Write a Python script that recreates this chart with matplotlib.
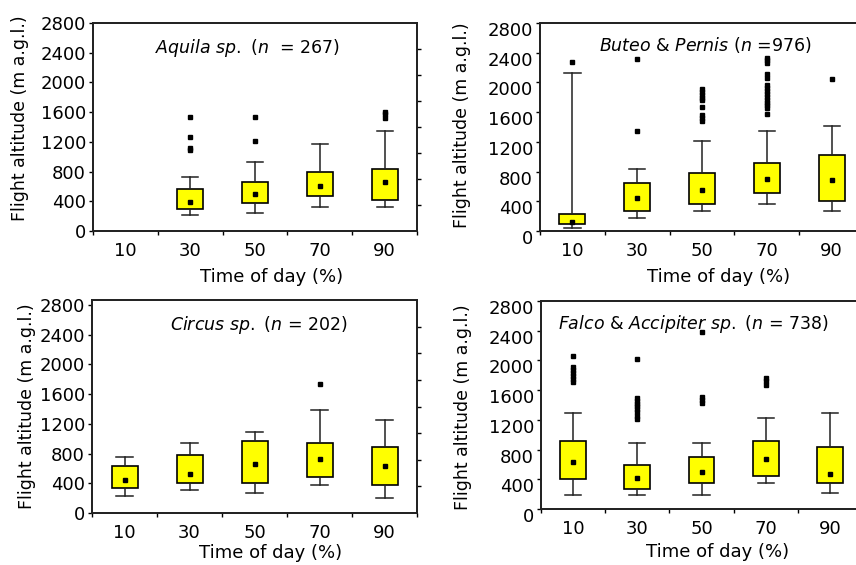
import matplotlib.pyplot as plt
import matplotlib.transforms as mtransforms
import numpy as np

plt.rcParams['font.family'] = 'DejaVu Sans'
plt.rcParams['mathtext.fontset'] = 'dejavusans'

nan = np.nan
times = ['10', '30', '50', '70', '90']
left_ticks = [0, 400, 800, 1200, 1600, 2000, 2400, 2800]

# Aquila sp.
aquila_lo = [nan, 215, 245, 320, 320]
aquila_q1 = [nan, 290, 375, 470, 420]
aquila_med = [nan, 395, 500, 605, 655]
aquila_q3 = [nan, 560, 665, 800, 830]
aquila_hi = [nan, 725, 935, 1175, 1340]
aquila_out = [[], [1540, 1260, 1120, 1090], [1540, 1215], [], [1600, 1580, 1520]]

# Buteo & Pernis
buteo_lo = [45, 180, 265, 370, 265]
buteo_q1 = [100, 265, 370, 505, 400]
buteo_med = [120, 440, 550, 695, 685]
buteo_q3 = [235, 640, 775, 910, 1025]
buteo_hi = [2130, 830, 1205, 1340, 1420]
buteo_out = [[2280], [2320, 1350],
             [1910, 1870, 1830, 1790, 1760, 1670, 1560, 1520, 1480],
             [2335, 2300, 2265, 2110, 2060, 1960, 1920, 1880, 1840, 1800,
              1760, 1720, 1700, 1650, 1580],
             [2040]]

# Circus sp.
circus_lo = [225, 305, 270, 380, 200]
circus_q1 = [330, 405, 405, 485, 380]
circus_med = [450, 530, 665, 725, 630]
circus_q3 = [630, 785, 975, 945, 890]
circus_hi = [755, 945, 1090, 1380, 1250]
circus_out = [[], [], [], [1730], []]

# Falco & Accipiter sp.
falco_lo = [190, 190, 190, 345, 210]
falco_q1 = [405, 270, 345, 450, 345]
falco_med = [635, 420, 500, 670, 470]
falco_q3 = [915, 590, 705, 915, 830]
falco_hi = [1295, 885, 885, 1230, 1295]
falco_out = [[2060, 1910, 1870, 1830, 1790, 1750, 1710],
             [2015, 1500, 1460, 1420, 1380, 1340, 1300, 1250, 1210],
             [2385, 1510, 1470, 1430],
             [1760, 1720, 1670],
             []]

W, H = 856, 565
fig = plt.figure(figsize=(W / 100, H / 100), dpi=100)


def px_axes(l, r, t, b):
    return fig.add_axes([l / W, (H - b) / H, (r - l) / W, (b - t) / H])


def draw_panel(ax, lo, q1, med, q3, hi, out, title, tpos, ytop, xlab, ylab, label_shift=0):
    stats, pos, meds = [], [], []
    for i in range(len(times)):
        if np.isnan(med[i]):
            continue
        stats.append(dict(whislo=lo[i], q1=q1[i], med=med[i], q3=q3[i],
                          whishi=hi[i], fliers=out[i]))
        pos.append(i + 1)
        meds.append(med[i])
    ax.bxp(stats, positions=pos, widths=0.4, capwidths=0.25, patch_artist=True,
           manage_ticks=False,
           boxprops=dict(facecolor='#ffff00', edgecolor='black', linewidth=1.2),
           whiskerprops=dict(color='#222222', linewidth=1.1),
           capprops=dict(color='#222222', linewidth=1.1),
           medianprops=dict(linestyle='none'),
           flierprops=dict(marker='s', markerfacecolor='black', markeredgecolor='black',
                           markersize=2.2, linestyle='none'))
    ax.plot(pos, meds, 's', color='black', ms=2.6, zorder=5)

    ax.set_xlim(0.5, 5.5)
    ax.set_ylim(0, ytop)
    ax.set_xticks(range(1, 6))
    ax.set_xticklabels(times)
    ax.set_xticks(np.arange(0.5, 6.0, 1.0), minor=True)
    ax.tick_params(axis='x', which='major', length=0, pad=8, labelsize=13)
    ax.tick_params(axis='x', which='minor', length=3, width=1.0, direction='out')
    ax.set_yticks(left_ticks)
    ax.tick_params(axis='y', which='major', length=3, width=1.0, pad=2, labelsize=13)
    for sp in ax.spines.values():
        sp.set_linewidth(1.3)
        sp.set_color('#222222')

    # short unlabeled ticks on the right spine
    axr = ax.twinx()
    axr.set_ylim(0, 2800)
    axr.set_yticks(np.arange(350, 2800, 350))
    axr.tick_params(axis='y', length=3, width=1.0, labelright=False)
    for sp in axr.spines.values():
        sp.set_linewidth(1.3)
        sp.set_color('#222222')

    ax.text(tpos[0], tpos[1], title, transform=ax.transAxes, ha='center', va='center',
            fontsize=12.5)
    ax.set_xlabel('Time of day (%)', fontsize=13, va='center')
    ax.xaxis.set_label_coords(*xlab)
    ax.set_ylabel('Flight altitude (m a.g.l.)', fontsize=12.5, va='center')
    ax.yaxis.set_label_coords(*ylab)

    if label_shift:
        off = mtransforms.ScaledTranslation(0, -label_shift / 100, fig.dpi_scale_trans)
        for lbl in ax.get_yticklabels():
            lbl.set_transform(lbl.get_transform() + off)


ax1 = px_axes(93, 417, 23, 231)
draw_panel(ax1, aquila_lo, aquila_q1, aquila_med, aquila_q3, aquila_hi, aquila_out,
           r'$\it{Aquila\ sp.}$ ($\it{n}$  = 267)', (0.475, 0.88), 2800,
           (0.55, -0.22), (-0.225, 0.54))

ax2 = px_axes(540, 864, 23, 231)
draw_panel(ax2, buteo_lo, buteo_q1, buteo_med, buteo_q3, buteo_hi, buteo_out,
           r'$\it{Buteo}$ & $\it{Pernis}$ ($\it{n}$ =976)', (0.51, 0.894), 2800,
           (0.55, -0.22), (-0.241, 0.51), label_shift=6)

ax3 = px_axes(92, 417, 300, 513)
draw_panel(ax3, circus_lo, circus_q1, circus_med, circus_q3, circus_hi, circus_out,
           r'$\it{Circus\ sp.}$ ($\it{n}$ = 202)', (0.514, 0.883), 2867,
           (0.55, -0.188), (-0.2, 0.5))

ax4 = px_axes(541, 862, 301, 509)
draw_panel(ax4, falco_lo, falco_q1, falco_med, falco_q3, falco_hi, falco_out,
           r'$\it{Falco}$ & $\it{Accipiter\ sp.}$ ($\it{n}$ = 738)', (0.473, 0.889), 2800,
           (0.55, -0.207), (-0.243, 0.49), label_shift=6)

fig.savefig('out.png', dpi=100)
